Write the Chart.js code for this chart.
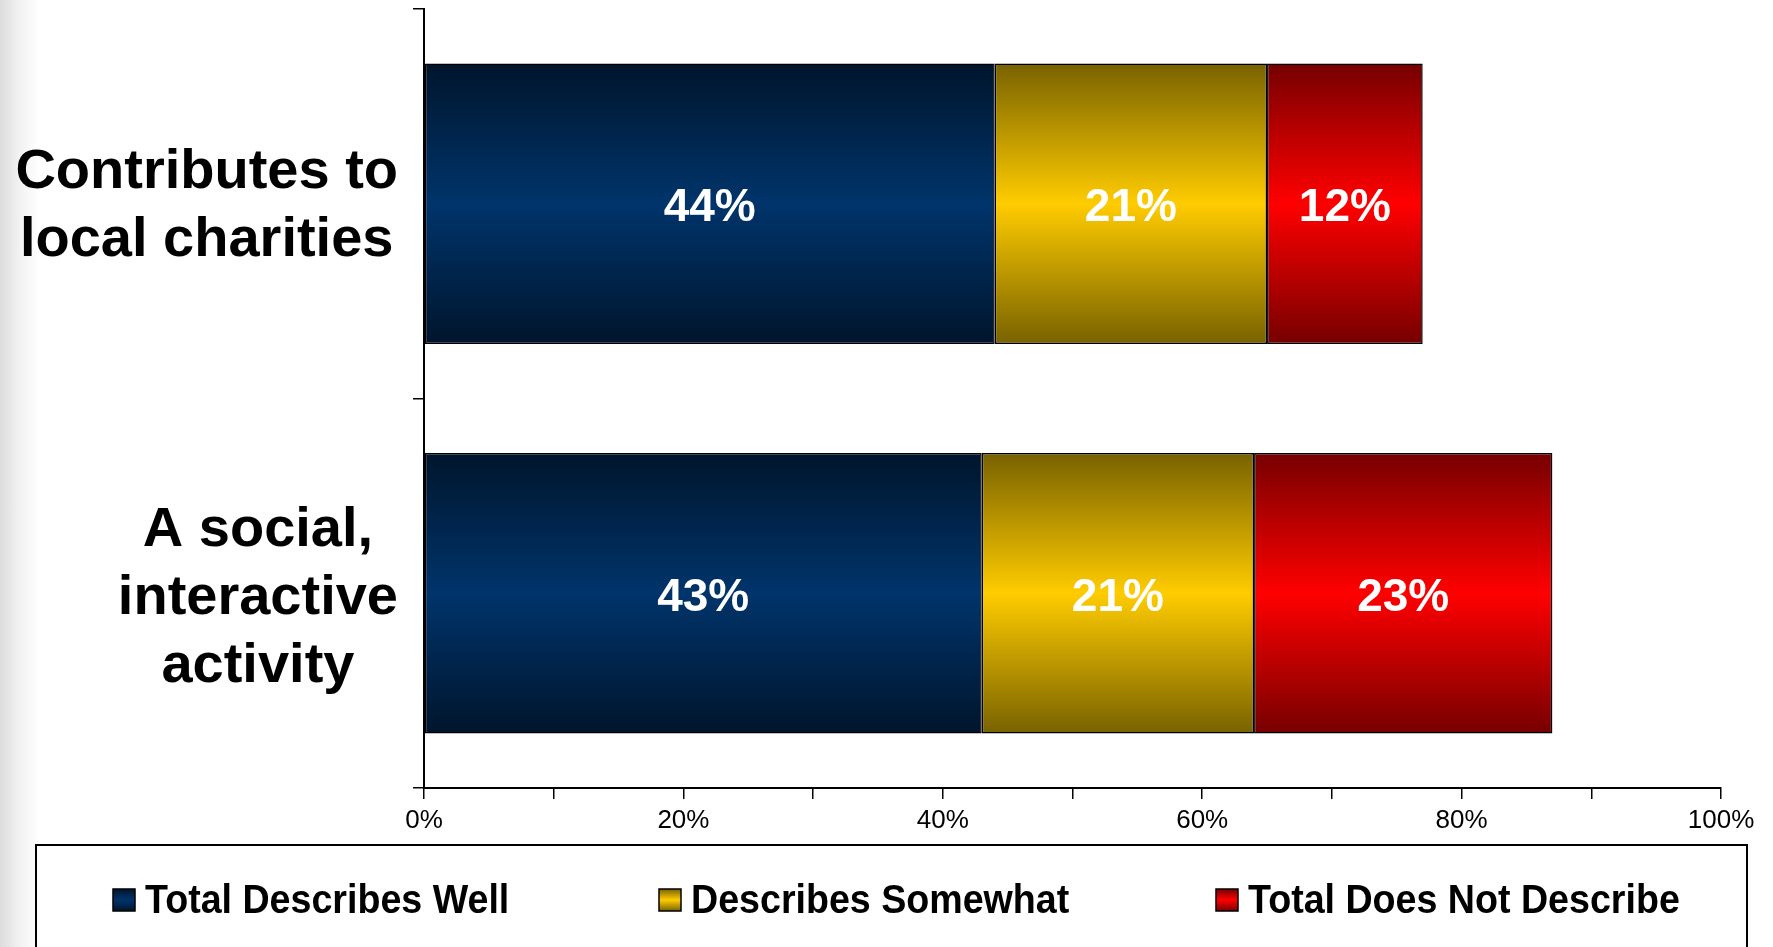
<!DOCTYPE html>
<html>
<head>
<meta charset="utf-8">
<title>Describes Well / Somewhat / Not</title>
<script src="https://cdn.jsdelivr.net/npm/chart.js@4.4.1/dist/chart.umd.min.js"></script>
<style>
  html, body { margin: 0; padding: 0; }
  body {
    width: 1773px; height: 947px; overflow: hidden;
    background: linear-gradient(to right, #dcdcdc 0px, #f1f1f1 18px, #ffffff 40px);
  }
  #wrap { position: relative; width: 1773px; height: 947px; }
</style>
</head>
<body>
<div id="wrap"><canvas id="chart" width="1773" height="947"></canvas></div>
<script>
// Data
const categories = [
  ['Contributes to', 'local charities'],
  ['A social,', 'interactive', 'activity']
];
const seriesNames = ['Total Describes Well', 'Describes Somewhat', 'Total Does Not Describe'];
const describesWell = [44, 43];
const describesSomewhat = [21, 21];
const doesNotDescribe = [12, 23];
const xTicks = [0, 20, 40, 60, 80, 100];

// Colours: [edge, middle] of the vertical shading
const shades = [
  ['#00152c', '#00346b'],
  ['#786200', '#ffcc00'],
  ['#760000', '#ff0000']
];

const BAR_SHARE = 0.72;
const LABEL_FONT = 'bold 56px "Liberation Sans", Arial, sans-serif';
const SANS = '"Liberation Sans", Arial, sans-serif';
const labelNudge = [2, 5];   // vertical fine-tuning of the category blocks

// vertical dark-bright-dark fill for each bar
function shadedFill(idx) {
  return function (ctx) {
    const chart = ctx.chart;
    const y = chart.scales.y;
    if (!y || !chart.chartArea) return shades[idx][1];
    const c = y.getPixelForValue(ctx.dataIndex);
    const half = (y.height / categories.length) * BAR_SHARE / 2;
    const g = chart.ctx.createLinearGradient(0, c - half, 0, c + half);
    g.addColorStop(0, shades[idx][0]);
    g.addColorStop(0.5, shades[idx][1]);
    g.addColorStop(1, shades[idx][0]);
    return g;
  };
}

// white % labels in the middle of each segment
const valueLabels = {
  id: 'valueLabels',
  afterDatasetsDraw(chart) {
    const ctx = chart.ctx;
    ctx.save();
    ctx.fillStyle = '#ffffff';
    ctx.font = 'bold 46px ' + SANS;
    ctx.textAlign = 'center';
    ctx.textBaseline = 'middle';
    chart.data.datasets.forEach((ds, di) => {
      chart.getDatasetMeta(di).data.forEach((bar, i) => {
        const p = bar.getCenterPoint();
        ctx.fillText(ds.data[i] + '%', p.x, p.y + 5);
      });
    });
    ctx.restore();
  }
};

// category labels: each block centred on itself, block right-aligned to the axis
const categoryLabels = {
  id: 'categoryLabels',
  afterDraw(chart) {
    const ctx = chart.ctx;
    const y = chart.scales.y;
    const right = chart.chartArea.left - 26;
    const lineH = 68;
    ctx.save();
    ctx.font = LABEL_FONT;
    ctx.fillStyle = '#000';
    ctx.textAlign = 'center';
    ctx.textBaseline = 'alphabetic';
    categories.forEach((lines, i) => {
      const w = Math.max(...lines.map(l => ctx.measureText(l).width));
      const cx = right - w / 2;
      const cy = y.getPixelForValue(i);
      lines.forEach((l, k) => {
        const by = cy + (k - (lines.length - 1) / 2) * lineH + 16 + labelNudge[i];
        ctx.fillText(l, cx, by);
      });
    });
    ctx.restore();
  }
};

// boxed legend along the bottom
const boxLegend = {
  id: 'boxLegend',
  afterDraw(chart) {
    const ctx = chart.ctx;
    const slots = [113, 659, 1216];
    const cy = 900;
    ctx.save();
    ctx.lineWidth = 2;
    ctx.strokeStyle = '#000';
    ctx.fillStyle = '#ffffff';
    ctx.fillRect(36, 845, 1711, 120);
    ctx.strokeRect(36, 845, 1711, 120);
    ctx.font = 'bold 40px ' + SANS;
    ctx.textBaseline = 'middle';
    ctx.textAlign = 'left';
    chart.data.datasets.forEach((ds, i) => {
      const x = slots[i];
      const s = 22;
      const g = ctx.createLinearGradient(0, cy - s / 2, 0, cy + s / 2);
      g.addColorStop(0, shades[i][0]);
      g.addColorStop(0.5, shades[i][1]);
      g.addColorStop(1, shades[i][0]);
      ctx.fillStyle = g;
      ctx.fillRect(x, cy - s / 2, s, s);
      ctx.lineWidth = 1.5;
      ctx.strokeStyle = '#000';
      ctx.strokeRect(x, cy - s / 2, s, s);
      ctx.fillStyle = '#000';
      ctx.save();
      ctx.translate(x + 32, cy + 2);
      ctx.scale(0.94, 1);
      ctx.fillText(ds.label, 0, 0);
      ctx.restore();
    });
    ctx.restore();
  }
};

const seriesValues = [describesWell, describesSomewhat, doesNotDescribe];

new Chart(document.getElementById('chart'), {
  type: 'bar',
  data: {
    labels: categories.map(c => c.join(' ')),
    datasets: seriesNames.map((name, i) => ({
      label: name,
      data: seriesValues[i],
      backgroundColor: shadedFill(i),
      borderColor: '#000',
      borderWidth: 1.5,
      borderSkipped: false,
      barPercentage: 1,
      categoryPercentage: BAR_SHARE
    }))
  },
  options: {
    indexAxis: 'y',
    responsive: false,
    animation: false,
    layout: { padding: { top: 9, right: 52, left: 0, bottom: 0 } },
    plugins: {
      legend: { display: false },
      tooltip: { enabled: false }
    },
    scales: {
      x: {
        stacked: true,
        min: 0,
        max: 100,
        ticks: {
          stepSize: 10,
          autoSkip: false,
          maxRotation: 0,
          padding: 6,
          color: '#000',
          font: { family: SANS, size: 26 },
          callback: v => xTicks.includes(v) ? v + '%' : ''
        },
        grid: { drawOnChartArea: false, drawTicks: true, tickLength: 11, color: '#000', lineWidth: 1.5 },
        border: { display: true, color: '#000', width: 2 },
        afterFit: s => { s.height = 159; }
      },
      y: {
        stacked: true,
        ticks: { display: false },
        grid: { offset: true, drawOnChartArea: false, drawTicks: true, tickLength: 11, color: '#000', lineWidth: 1.5 },
        border: { display: true, color: '#000', width: 2 },
        afterFit: s => { s.width = 424; }
      }
    }
  },
  plugins: [valueLabels, categoryLabels, boxLegend]
});
</script>
</body>
</html>
